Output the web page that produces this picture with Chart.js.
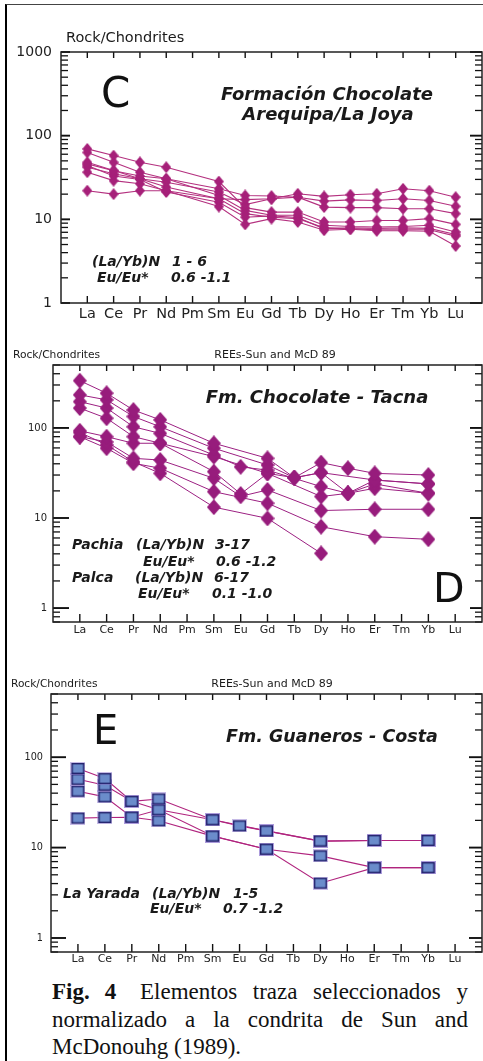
<!DOCTYPE html>
<html>
<head>
<meta charset="utf-8">
<script src="https://cdn.jsdelivr.net/npm/chart.js@4.4.1/dist/chart.umd.min.js"></script>
<style>
  body { margin: 0; background: #fff; width: 483px; height: 1061px; overflow: hidden; position: relative; }
  .frame { position: absolute; left: 5px; top: 4px; width: 490px; height: 1080px; border-left: 2.5px solid #000; border-top: 1.5px solid #444; }
  canvas { position: absolute; left: 0; }
  #chartC { top: 0; }
  #chartD { top: 340px; }
  #chartE { top: 670px; }
  .caption { position: absolute; left: 52px; top: 978px; width: 416px; font-family: "Liberation Serif", "Times New Roman", serif;
             font-size: 23px; line-height: 27.5px; text-align: justify; color: #111; }
  .lead { display: inline-block; width: 88px; }
</style>
</head>
<body>
<div class="frame"></div>
<canvas id="chartC" width="483" height="335"></canvas>
<canvas id="chartD" width="483" height="300"></canvas>
<canvas id="chartE" width="483" height="300"></canvas>
<div class="caption"><span class="lead"><b>Fig.</b><b style="margin-left:15px">4</b></span>Elementos traza seleccionados y normalizado a la condrita de Sun and McDonouhg (1989).</div>

<script>
// REE order on the x axis
const ree = ["La", "Ce", "Pr", "Nd", "Pm", "Sm", "Eu", "Gd", "Tb", "Dy", "Ho", "Er", "Tm", "Yb", "Lu"];
const yTicksC = [1, 10, 100, 1000];
const yTicksDE = [1, 10, 100];

// Panel C - Formación Chocolate, Arequipa/La Joya
const arequipa1 = [22, 20, 22, 22, null, 17.6, 17.2, 17.6, 20.2, 18.8, 19.7, 20.2, 23.2, 22, 18.4];
const arequipa2 = [46, 38, 33, 30.5, null, 23.2, 19.3, 19, 18.4, 16.5, 17.1, 16.8, 17.6, 16.8, 14.3];
const arequipa3 = [42, 35, 30.5, 27.8, null, 21.2, 15, 17.6, 18.4, 14, 13.8, 13.8, 13.4, 13.4, 11.7];
const arequipa4 = [69.5, 57.8, 48, 42, null, 28.3, 13.8, 12.2, 12.2, 9.3, 9.3, 9.7, 9.7, 10.2, 8.7];
const arequipa5 = [63, 48, 36.6, 30.5, null, 19.3, 12.8, 11.2, 11.2, 8.5, 8.2, 8.1, 8.2, 8.5, 7.06];
const arequipa6 = [48, 38.3, 30.5, 24.3, null, 17.6, 11.7, 10.6, 10.2, 7.95, 7.7, 7.5, 7.5, 7.5, 6.3];
const arequipa7 = [36.6, 29, 26.6, 22, null, 14.2, 8.7, 10.2, 9.3, 7.4, 7.6, 7.3, 7.3, 7.2, 4.8];
const arequipa8 = [44, 33, 30, 21.2, null, 16, 10.6, 11, 10.5, 7.7, 7.9, 7.8, 7.9, 7.8, 6.6];
const arequipaSamples = [arequipa1, arequipa2, arequipa3, arequipa4, arequipa5, arequipa6, arequipa7, arequipa8];

// Panel D - Fm. Chocolate, Tacna
const tacna1 = [335, 243, 158, 123, null, 67.6, null, 46, 28, 41.2, 35.7, 31.3, null, 30, null];
const tacna2 = [233, 205, 134, 103, null, 59.5, null, 38.8, 28, 31.9, null, 26.4, null, 23.9, null];
const tacna3 = [196, 166, 103, 87, null, 50, 37, 34, null, 22.3, 18.8, 23.9, null, 18.8, null];
const tacna4 = [166, 128, 80, 67.6, null, 32.7, 18.5, 31.3, null, 17.3, 18.8, 21.4, null, 18.8, null];
const tacna5 = [93, 80, 67.6, 67.6, null, 48, null, 31.3, 28, 31.9, 18.8, 26.4, null, 23.9, null];
const tacna6 = [80, 70, 46, 44, null, 27.6, 17.4, 20.5, null, 12.1, null, 12.5, null, 12.5, null];
const tacna7 = [80, 59.5, 40.5, 35.7, null, 19.6, null, 14.6, null, 8.0, null, 6.2, null, 5.8, null];
const tacna8 = [89, 65, 42, 31.3, null, 13.2, null, 9.9, null, 4.05, null, null, null, null, null];
const tacnaSamples = [tacna1, tacna2, tacna3, tacna4, tacna5, tacna6, tacna7, tacna8];

// Panel E - Fm. Guaneros, Costa (La Yarada)
const costa1 = [75, 58, 32.5, 34.5, null, 20.3, 17.4, 15.3, null, 11.8, null, 12, null, 12, null];
const costa2 = [57, 49, 32.5, 26.2, null, 20.3, null, 15.3, null, 11.8, null, 12, null, 12, null];
const costa3 = [42, 36.4, 21.7, 26.2, null, 13.4, null, 9.6, null, 8.1, null, 6, null, 6, null];
const costa4 = [21.2, 21.5, 21.7, 19.8, null, 13.4, null, 9.6, null, 4.04, null, 6, null, 6, null];
const costaSamples = [costa1, costa2, costa3, costa4];


const theme = {
    lineC: "#B4307F",
    markC: "#A62079",
    lineD: "#9C2082",
    markD: "#971C7C",
    lineE: "#B0247E",
    fillE: "#6B8CCB",
    edgeE: "#25246E",
    ink: "#1a1a1a"
};

const font = "'DejaVu Sans', Verdana, sans-serif";

// marker images (diamonds a bit taller than wide, as in the print)
function diamond(w, h, fill) {
    const c = document.createElement("canvas");
    c.width = w; c.height = h;
    const g = c.getContext("2d");
    g.fillStyle = fill;
    g.beginPath();
    g.moveTo(w / 2, 0); g.lineTo(w, h / 2); g.lineTo(w / 2, h); g.lineTo(0, h / 2);
    g.closePath();
    g.fill();
    return c;
}

function square(w, h, fill, edge) {
    const c = document.createElement("canvas");
    c.width = w; c.height = h;
    const g = c.getContext("2d");
    g.fillStyle = "rgba(150,130,210,0.55)";
    g.fillRect(0, 0, w, h);
    g.fillStyle = fill;
    g.fillRect(1.5, 1.5, w - 3, h - 3);
    g.strokeStyle = edge;
    g.lineWidth = 1.4;
    g.strokeRect(1.7, 1.7, w - 3.4, h - 3.4);
    return c;
}

const toPoints = vals => vals.map((v, i) => v == null ? null : { x: i, y: v }).filter(p => p);

// frame + inward tick marks, drawn from the chart's own scales
const panelTicks = {
    id: "panelTicks",
    beforeDatasetsDraw(chart, args, o) {
        const { ctx, chartArea: a } = chart;
        const x = chart.scales.x, y = chart.scales.y;
        const seg = (x1, y1, x2, y2) => { ctx.beginPath(); ctx.moveTo(x1, y1); ctx.lineTo(x2, y2); ctx.stroke(); };
        ctx.save();
        ctx.strokeStyle = "#111";
        ctx.lineWidth = 1.4;
        ree.forEach((e, i) => {
            const px = x.getPixelForValue(i);
            seg(px, a.top, px, a.top + o.top);
            seg(px, a.bottom, px, a.bottom - o.bottom);
        });
        [0.1, 1, 10, 100, 1000].forEach(d => {
            for (let m = 1; m <= 9; m++) {
                const v = d * m;
                if (v < y.min * 0.999 || v > y.max * 1.001) continue;
                const py = y.getPixelForValue(v);
                const major = m === 1;
                ctx.lineWidth = major ? 1.9 : 1.3;
                seg(a.left, py, a.left + (major ? o.leftMajor : o.leftMinor), py);
                seg(a.right, py, a.right - (major ? o.rightMajor : o.rightMinor), py);
            }
        });
        ctx.lineWidth = 1.5;
        ctx.strokeStyle = "#222";
        ctx.strokeRect(a.left, a.top, a.right - a.left, a.bottom - a.top);
        ctx.restore();
    }
};

// panel letters, titles and ratio notes
const panelNotes = {
    id: "panelNotes",
    afterDraw(chart, args, o) {
        const ctx = chart.ctx;
        ctx.save();
        ctx.textBaseline = "alphabetic";
        o.items.forEach(n => {
            ctx.font = n.font;
            ctx.fillStyle = n.color || theme.ink;
            ctx.textAlign = n.align || "left";
            ctx.fillText(n.text, n.x, n.y);
        });
        ctx.restore();
    }
};

function axes(yMin, yMax, yTicks, yWidth, xHeight, yFont, xFont, yPad, xPad) {
    return {
        x: {
            type: "linear",
            min: -1,
            max: 15,
            grid: { display: false, drawTicks: false },
            border: { display: false },
            afterBuildTicks: s => { s.ticks = ree.map((e, i) => ({ value: i })); },
            afterFit: s => { s.height = xHeight; },
            ticks: {
                autoSkip: false,
                maxRotation: 0,
                padding: xPad,
                color: "#222",
                font: { family: font, size: xFont },
                callback: v => ree[v]
            }
        },
        y: {
            type: "logarithmic",
            min: yMin,
            max: yMax,
            grid: { display: false, drawTicks: false },
            border: { display: false },
            afterBuildTicks: s => { s.ticks = yTicks.map(v => ({ value: v })); },
            afterFit: s => { s.width = yWidth; },
            ticks: {
                padding: yPad,
                color: "#222",
                font: { family: font, size: yFont },
                callback: v => String(v)
            }
        }
    };
}

const bi = size => `bold italic ${size}px ${font}`;
const rg = size => `${size}px ${font}`;


//Panel C

new Chart(document.getElementById("chartC"), {
    type: "line",
    data: {
        datasets: arequipaSamples.map(s => ({
            data: toPoints(s),
            borderColor: theme.lineC,
            borderWidth: 1.1,
            pointStyle: diamond(10, 12, theme.markC),
            pointRadius: 6,
            tension: 0
        }))
    },
    options: {
        responsive: false,
        animation: false,
        layout: { autoPadding: false, padding: { left: 0, right: 1, top: 52, bottom: 0 } },
        scales: axes(1, 1000, yTicksC, 61, 32, 14, 14.5, 9, 3),
        plugins: {
            legend: { display: false },
            tooltip: { enabled: false },
            panelTicks: { top: 6, bottom: 7, leftMajor: 9, leftMinor: 7, rightMajor: 12, rightMinor: 7 },
            panelNotes: {
                items: [
                    { text: "Rock/Chondrites", x: 66, y: 42, font: rg(14.5) },
                    { text: "C", x: 101, y: 107, font: rg(42), color: "#111" },
                    { text: "Formación Chocolate", x: 327, y: 100, font: bi(18), align: "center" },
                    { text: "Arequipa/La Joya", x: 328, y: 120, font: bi(18), align: "center" },
                    { text: "(La/Yb)N", x: 92, y: 266, font: bi(14) },
                    { text: "1 - 6", x: 172, y: 266, font: bi(14) },
                    { text: "Eu/Eu*", x: 97, y: 282, font: bi(14) },
                    { text: "0.6 -1.1", x: 171, y: 282, font: bi(14) }
                ]
            }
        }
    },
    plugins: [panelTicks, panelNotes]
});


//Panel D

new Chart(document.getElementById("chartD"), {
    type: "line",
    data: {
        datasets: tacnaSamples.map(s => ({
            data: toPoints(s),
            borderColor: theme.lineD,
            borderWidth: 1,
            pointStyle: diamond(14, 16, theme.markD),
            pointRadius: 7,
            tension: 0
        }))
    },
    options: {
        responsive: false,
        animation: false,
        layout: { autoPadding: false, padding: { left: 0, right: 1, top: 25, bottom: 0 } },
        scales: axes(0.7, 500, yTicksDE, 53, 18, 10, 11, 6, 2),
        plugins: {
            legend: { display: false },
            tooltip: { enabled: false },
            panelTicks: { top: 6, bottom: 8, leftMajor: 16, leftMinor: 7, rightMajor: 12, rightMinor: 7 },
            panelNotes: {
                items: [
                    { text: "Rock/Chondrites", x: 13, y: 18, font: rg(10.7) },
                    { text: "REEs-Sun and McD 89", x: 275, y: 18, font: rg(11), align: "center" },
                    { text: "Fm. Chocolate - Tacna", x: 317, y: 63, font: bi(18), align: "center" },
                    { text: "Pachia", x: 72, y: 209, font: bi(14) },
                    { text: "(La/Yb)N", x: 136, y: 209, font: bi(14) },
                    { text: "3-17", x: 215, y: 209, font: bi(14) },
                    { text: "Eu/Eu*", x: 143, y: 226, font: bi(14) },
                    { text: "0.6 -1.2", x: 216, y: 226, font: bi(14) },
                    { text: "Palca", x: 72, y: 242, font: bi(14) },
                    { text: "(La/Yb)N", x: 135, y: 242, font: bi(14) },
                    { text: "6-17", x: 214, y: 242, font: bi(14) },
                    { text: "Eu/Eu*", x: 138, y: 258, font: bi(14) },
                    { text: "0.1 -1.0", x: 212, y: 258, font: bi(14) },
                    { text: "D", x: 433, y: 262, font: rg(41), color: "#111" }
                ]
            }
        }
    },
    plugins: [panelTicks, panelNotes]
});


//Panel E

new Chart(document.getElementById("chartE"), {
    type: "line",
    data: {
        datasets: costaSamples.map(s => ({
            data: toPoints(s),
            borderColor: theme.lineE,
            borderWidth: 1.1,
            pointStyle: square(15, 13, theme.fillE, theme.edgeE),
            pointRadius: 7,
            tension: 0
        }))
    },
    options: {
        responsive: false,
        animation: false,
        layout: { autoPadding: false, padding: { left: 0, right: 1, top: 24, bottom: 0 } },
        scales: axes(0.7, 500, yTicksDE, 51, 18, 9.7, 11, 8, 1),
        plugins: {
            legend: { display: false },
            tooltip: { enabled: false },
            panelTicks: { top: 6, bottom: 8, leftMajor: 15, leftMinor: 7, rightMajor: 13, rightMinor: 7 },
            panelNotes: {
                items: [
                    { text: "Rock/Chondrites", x: 11, y: 17, font: rg(10.6) },
                    { text: "REEs-Sun and McD 89", x: 272, y: 17, font: rg(11), align: "center" },
                    { text: "E", x: 93, y: 74, font: rg(40), color: "#111" },
                    { text: "Fm. Guaneros - Costa", x: 332, y: 72, font: bi(17.5), align: "center" },
                    { text: "La Yarada", x: 63, y: 228, font: bi(14) },
                    { text: "(La/Yb)N", x: 152, y: 228, font: bi(14) },
                    { text: "1-5", x: 233, y: 228, font: bi(14) },
                    { text: "Eu/Eu*", x: 150, y: 243, font: bi(14) },
                    { text: "0.7 -1.2", x: 223, y: 243, font: bi(14) }
                ]
            }
        }
    },
    plugins: [panelTicks, panelNotes]
});
</script>
</body>
</html>
